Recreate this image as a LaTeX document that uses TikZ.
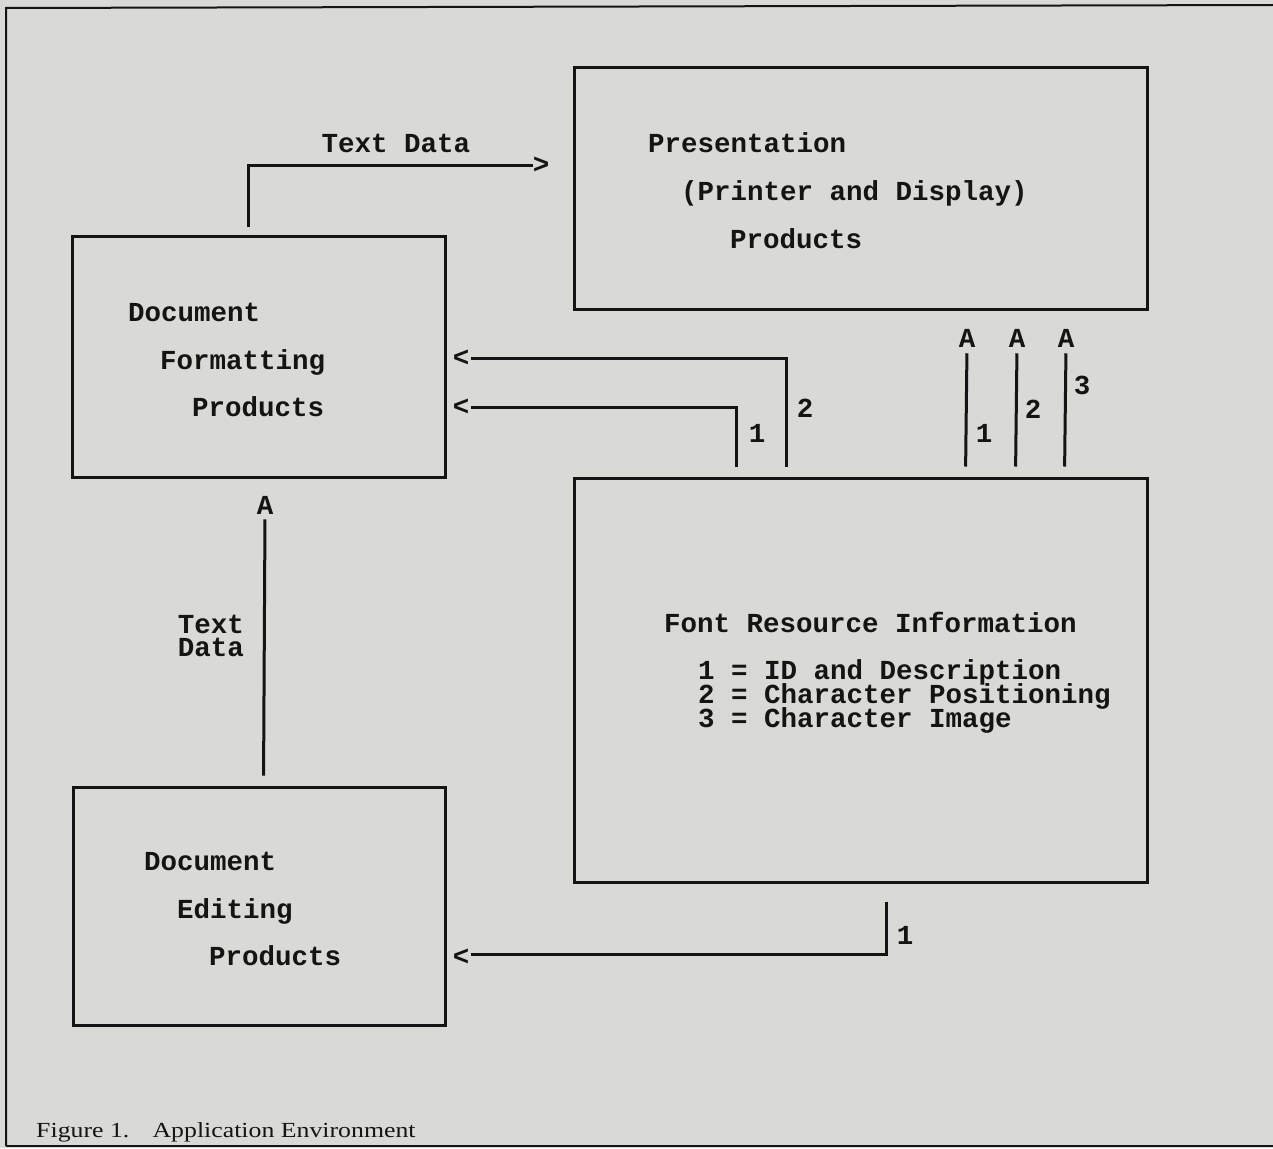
\documentclass[tikz,border=0pt]{standalone}
\usepackage{fontspec}
\setmonofont{Liberation Mono}
\newfontfamily\capfont{Liberation Serif}
\usetikzlibrary{calc}
\definecolor{paper}{RGB}{217,218,213}
\definecolor{ink}{RGB}{20,20,20}
\tikzset{
  boxnode/.style={draw=ink, line width=3pt, inner sep=0pt, rectangle},
  txt/.style={inner sep=0pt, anchor=base west, text=ink, font=\ttfamily\bfseries\fontsize{27.5}{30}\selectfont},
  lbl/.style={inner sep=0pt, anchor=center, text=ink, font=\ttfamily\bfseries\fontsize{27.5}{30}\selectfont},
  conn/.style={draw=ink, line width=3pt},
  frame/.style={draw=ink, line width=2pt}
}
\begin{document}
\begin{tikzpicture}[x=1pt,y=-1pt]
\useasboundingbox (0,0) rectangle (1273,1148);
\fill[paper] (0,0) rectangle (1273,1148);
% outer frame
\draw[frame] (6,1146) -- (6,8) -- (1273,5);
\draw[frame] (6,1146) -- (1273,1146);

% boxes
\node[boxnode, minimum width=573pt, minimum height=242pt] (pres) at (860.5,188) {};
\node[boxnode, minimum width=373pt, minimum height=241pt] (fmt) at (258.5,356.5) {};
\node[boxnode, minimum width=573pt, minimum height=404pt] (font) at (860.5,680) {};
\node[boxnode, minimum width=372pt, minimum height=238pt] (edit) at (259,906) {};

% box texts
\node[txt] (p1) at (648,152) {Presentation};
\node[txt] (p2) at (681,200) {(Printer and Display)};
\node[txt] (p3) at (730,248) {Products};

\node[txt] (f1) at (128,321) {Document};
\node[txt] (f2) at (160,369) {Formatting};
\node[txt] (f3) at (192,416) {Products};

\node[txt] (r0) at (664,632) {Font Resource Information};
\node[txt] (r1) at (698,679) {1 = ID and Description};
\node[txt] (r2) at (698,703) {2 = Character Positioning};
\node[txt] (r3) at (698,727) {3 = Character Image};

\node[txt] (e1) at (144,870) {Document};
\node[txt] (e2) at (177,918) {Editing};
\node[txt] (e3) at (209,965) {Products};

% arrow glyphs
\node[lbl] (gt) at (541,165) {>};
\node[lbl] (lt2) at (461,358) {<};
\node[lbl] (lt1) at (461,407) {<};
\node[lbl] (lt3) at (461,957) {<};
\node[lbl] (a1) at (967,338) {A};
\node[lbl] (a2) at (1017,338) {A};
\node[lbl] (a3) at (1066,338) {A};
\node[lbl] (aE) at (265,505) {A};

% start coordinates on box edges
\coordinate (tdS) at ($(fmt.north west)+(178,0)$);
\coordinate (c2S) at ($(font.north west)+(214,0)$);
\coordinate (c1S) at ($(font.north west)+(164,0)$);
\coordinate (v1S) at ($(font.north west)+(393,0)$);
\coordinate (v2S) at ($(font.north west)+(443,0)$);
\coordinate (v3S) at ($(font.north west)+(492,0)$);
\coordinate (eS) at ($(edit.north west)+(192,0)$);
\coordinate (bS) at ($(font.south west)+(314,0)$);

% connectors
\draw[conn, shorten <=8pt] (tdS) |- (gt.west);
\draw[conn, shorten <=10pt, shorten >=2pt] (c2S) |- (lt2.east);
\draw[conn, shorten <=10pt, shorten >=2pt] (c1S) |- (lt1.east);
\draw[conn, shorten <=10pt, shorten >=6pt] (v1S) -- (a1.south);
\draw[conn, shorten <=10pt, shorten >=6pt] (v2S) -- (a2.south);
\draw[conn, shorten <=10pt, shorten >=6pt] (v3S) -- (a3.south);
\draw[conn, shorten <=10pt, shorten >=5pt] (eS) -- (aE.south);
\draw[conn, shorten <=18pt, shorten >=2pt] (bS) |- ($(lt3.east)+(0,-3)$);

% connector labels
\node[lbl] (tdL) at (396,143) {Text Data};
\node[lbl] (n2a) at (805,408) {2};
\node[lbl] (n1a) at (757,433) {1};
\node[lbl] (n1b) at (984,433) {1};
\node[lbl] (n2b) at (1033,409) {2};
\node[lbl] (n3b) at (1082,385) {3};
\node[lbl] (n1c) at (905,935) {1};
\node[lbl] (tx1) at (211,624) {Text};
\node[lbl] (tx2) at (211,647) {Data};

% caption
\node[inner sep=0pt, anchor=base west, text=ink, xscale=1.2, font=\capfont\fontsize{21.5}{24}\selectfont] (cap) at (36,1137) {Figure 1.\hspace{0.9em}Application Environment};
\end{tikzpicture}
\end{document}
